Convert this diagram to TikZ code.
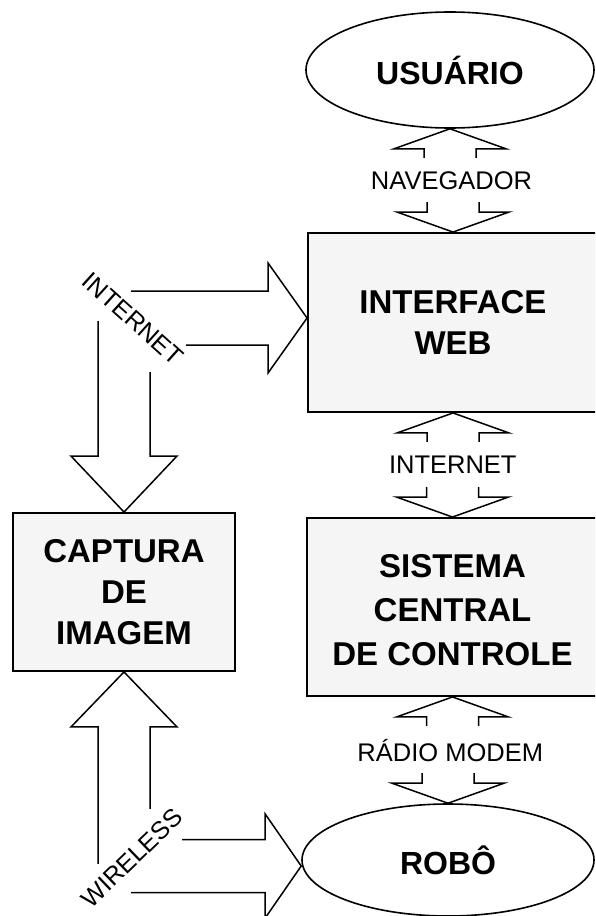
\documentclass[tikz,border=0pt]{standalone}
\usepackage{fontspec}
\setmainfont{Liberation Sans}
\usetikzlibrary{shapes.geometric,calc}

% two-headed block arrow between the anchors #1 (upper tip) and #2 (lower tip)
\newcommand\bothways[2]{%
  \draw[barrow] ($(#1)+(-26,29)$) -- ($(#1)+(-26,20)$) -- ($(#1)+(-56,20)$) -- (#1)
    -- ($(#1)+(56,20)$) -- ($(#1)+(26,20)$) -- ($(#1)+(26,29)$);
  \draw[barrow] ($(#2)+(-26,-30)$) -- ($(#2)+(-26,-20)$) -- ($(#2)+(-56,-20)$) -- (#2)
    -- ($(#2)+(56,-20)$) -- ($(#2)+(26,-20)$) -- ($(#2)+(26,-30)$);
}

\begin{document}
\begin{tikzpicture}[x=1pt,y=-1pt,
  blk/.style={draw, rectangle, line width=1.9pt, fill=black!4, inner sep=0pt,
    align=center, font=\bfseries\fontsize{33}{41}\selectfont},
  oval/.style={draw, ellipse, line width=1.6pt, fill=white, inner sep=0pt,
    font=\bfseries\fontsize{32}{38}\selectfont},
  lbl/.style={inner sep=0pt, font=\fontsize{25.5}{30}\selectfont},
  slant/.style={inner sep=0pt, font=\fontsize{25}{28}\selectfont},
  barrow/.style={draw, line width=1.5pt, line join=miter}]

\useasboundingbox (0,0) rectangle (595,916);
\clip (0,0) rectangle (595,916);
\fill[white] (0,0) rectangle (595,916);

% main blocks
\node[oval, minimum width=288pt, minimum height=116pt] (usr) at (450,70) {USUÁRIO};
\node[blk, minimum width=290pt, minimum height=179pt] (web) at (453,322.5) {INTERFACE\\WEB};
\node[blk, minimum width=291pt, minimum height=178pt, font=\bfseries\fontsize{33}{44}\selectfont]
  (ctl) at (452.5,607)
  {\raisebox{-6pt}[\height][\depth]{\begin{tabular}{@{}c@{}}SISTEMA\\CENTRAL\\DE CONTROLE\end{tabular}}};
\node[blk, minimum width=222pt, minimum height=158pt] (cap) at (124,592) {CAPTURA\\DE\\IMAGEM};
\node[oval, minimum width=292pt, minimum height=112pt] (rob) at (448,860) {ROBÔ};

% vertical links on the right column
\bothways{usr.south}{web.north}
\node[lbl] (nav) at ($(usr.south)!.5!(web.north)$) {NAVEGADOR};
\bothways{web.south}{ctl.north}
\node[lbl] (inet) at ($(web.south)!.5!(ctl.north)$) {INTERNET};
\bothways{ctl.south}{rob.north}
\node[lbl] (radio) at ($(ctl.south)!.5!(rob.north)$) {RÁDIO MODEM};

% internet links to the web interface and to the image capture
\draw[barrow, shift={($(web.west)+(0,-4.5)$)}]
  (-176,-27) -- (-39,-27) -- (-39,-55) -- (0,0) -- (-39,55) -- (-39,27) -- (-121,27);
\draw[barrow, shift={(cap.north)}]
  (-26,-191) -- (-26,-56) -- (-53,-56) -- (0,0) -- (53,-56) -- (26,-56) -- (26,-140);
\node[slant, rotate=-42] (inetlbl) at (133,319) {INTERNET};

% wireless links from the image capture and to the robot
\draw[barrow, shift={(cap.south)}]
  (-26,192) -- (-26,55) -- (-53,55) -- (0,0) -- (53,55) -- (26,55) -- (26,137);
\draw[barrow, shift={($(rob.west)+(0,6)$)}]
  (-119,-26.5) -- (-36,-26.5) -- (-36,-52) -- (0,0) -- (-36,52) -- (-36,26.5) -- (-170,26.5);
\node[slant, rotate=44] (wlbl) at (132,858) {WIRELESS};

\end{tikzpicture}
\end{document}
